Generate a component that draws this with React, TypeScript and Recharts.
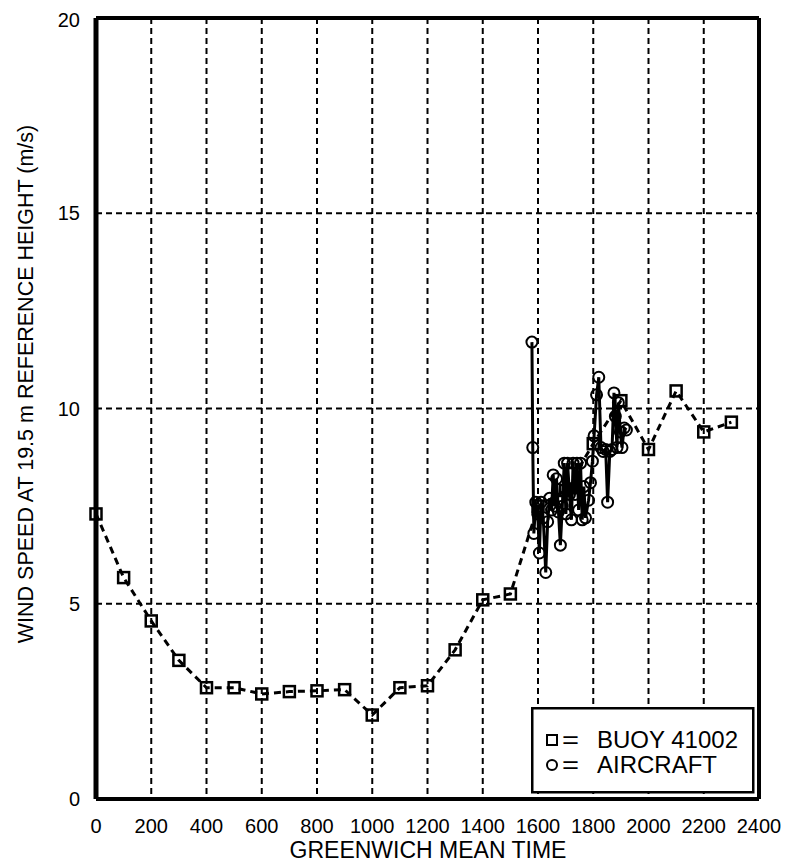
import { LineChart, Line, XAxis, YAxis, CartesianGrid, ReferenceLine } from 'recharts';

// buoy 41002, hourly
const BUOY_TIME = [0, 100, 200, 300, 400, 500, 600, 700, 800, 900, 1000, 1100, 1200, 1300, 1400, 1500, 1600, 1700, 1800, 1900, 2000, 2100, 2200, 2300];
const BUOY_SPEED = [7.3, 5.67, 4.56, 3.55, 2.85, 2.85, 2.69, 2.75, 2.77, 2.8, 2.15, 2.85, 2.9, 3.82, 5.1, 5.25, 7.5, 7.9, 9.1, 10.2, 8.95, 10.45, 9.4, 9.65];

// aircraft passes
const AIRCRAFT_TIME = [
  1578, 1581, 1585, 1592, 1599, 1605, 1611, 1619, 1628, 1635, 1642, 1649, 1655, 1661, 1667, 1674, 1681, 1688,
  1695, 1701, 1707, 1714, 1721, 1727, 1734, 1741, 1747, 1754, 1760, 1766, 1772, 1783, 1790, 1797, 1803, 1812,
  1820, 1828, 1836, 1845, 1852, 1860, 1868, 1875, 1880, 1886, 1891, 1898, 1904, 1912, 1920,
];
const AIRCRAFT_SPEED = [
  11.7, 9.0, 6.8, 7.6, 7.3, 6.3, 7.6, 7.2, 5.8, 7.1, 7.7, 7.4, 8.3, 7.5, 8.2, 7.35, 6.5, 7.5,
  8.6, 7.3, 8.6, 7.8, 7.15, 8.6, 7.8, 8.6, 7.4, 8.6, 7.15, 8.0, 7.2, 7.65, 8.1, 8.65, 9.3, 10.35,
  10.8, 9.0, 8.9, 8.95, 7.6, 8.9, 8.95, 10.4, 9.8, 9.0, 10.15, 9.4, 9.0, 9.5, 9.45,
];

const X_TICKS = [0, 200, 400, 600, 800, 1000, 1200, 1400, 1600, 1800, 2000, 2200, 2400];
const Y_TICKS = [0, 5, 10, 15, 20];

const X_TITLE = 'GREENWICH MEAN TIME';
const Y_TITLE = 'WIND SPEED AT 19.5 m REFERENCE HEIGHT (m/s)';

const buoy = BUOY_TIME.map((t, i) => ({ t, v: BUOY_SPEED[i] }));
const aircraft = AIRCRAFT_TIME.map((t, i) => ({ t, v: AIRCRAFT_SPEED[i] }));

const FONT = '"Liberation Sans", Arial, sans-serif';
const INK = '#000';

const W = 781;
const H = 856;

function Square(props: any) {
  const { cx, cy, index } = props;
  if (cx == null || cy == null) return <g key={`s-${index}`} />;
  return <rect key={`s-${index}`} x={cx - 5.5} y={cy - 5.5} width={11} height={11} fill="none" stroke={INK} strokeWidth={2.5} />;
}

function Ring(props: any) {
  const { cx, cy, index } = props;
  if (cx == null || cy == null) return <g key={`c-${index}`} />;
  return <circle key={`c-${index}`} cx={cx} cy={cy} r={5.5} fill="none" stroke={INK} strokeWidth={2} />;
}

function XTitle() {
  return (
    <text x={420} y={850} textAnchor="middle" fontSize={23} fontFamily={FONT} fill={INK}>
      {X_TITLE}
    </text>
  );
}

function YTitle() {
  return (
    <text x={25} y={376} transform="rotate(-90 25 376)" textAnchor="middle" fontSize={21.5} fontFamily={FONT} fill={INK}>
      {Y_TITLE}
    </text>
  );
}

function KeyBox() {
  return (
    <svg width={224} height={87} style={{ position: 'absolute', left: 523, top: 699 }}>
      <rect x={1.25} y={1.25} width={221} height={84} fill="#fff" stroke={INK} strokeWidth={2.5} />
      <rect x={16} y={28} width={10} height={10} fill="none" stroke={INK} strokeWidth={2} />
      <text x={31} y={41} fontSize={24} textLength={17} lengthAdjust="spacingAndGlyphs" fontFamily={FONT} fill={INK}>=</text>
      <text x={66} y={41} fontSize={24} fontFamily={FONT} fill={INK}>BUOY 41002</text>
      <circle cx={21} cy={58} r={5} fill="none" stroke={INK} strokeWidth={2} />
      <text x={31} y={66} fontSize={24} textLength={17} lengthAdjust="spacingAndGlyphs" fontFamily={FONT} fill={INK}>=</text>
      <text x={66} y={66} fontSize={24} fontFamily={FONT} fill={INK}>AIRCRAFT</text>
    </svg>
  );
}

export default function App() {
  const tick = { fontSize: 20, fill: INK, fontFamily: FONT };
  return (
    <div style={{ position: 'relative', width: W, height: H, background: '#fff' }}>
      <LineChart width={W} height={H} margin={{ top: 10, right: 30, left: 28, bottom: 8 }}>
        <CartesianGrid stroke={INK} strokeWidth={2} strokeDasharray="6 4" />
        <XAxis
          dataKey="t"
          type="number"
          domain={[0, 2400]}
          ticks={X_TICKS}
          height={57}
          tickSize={0}
          tickMargin={20}
          tickLine={false}
          axisLine={{ stroke: INK, strokeWidth: 4 }}
          tick={tick}
          label={XTitle}
        />
        <YAxis
          type="number"
          domain={[0, 20]}
          ticks={Y_TICKS}
          width={60}
          tickSize={0}
          tickMargin={16}
          tickLine={false}
          axisLine={{ stroke: INK, strokeWidth: 5 }}
          tick={tick}
          label={YTitle}
        />
        <ReferenceLine y={20} stroke={INK} strokeWidth={4} ifOverflow="visible" />
        <ReferenceLine x={2400} stroke={INK} strokeWidth={4} ifOverflow="visible" />
        <Line
          data={buoy}
          dataKey="v"
          stroke={INK}
          strokeWidth={3}
          strokeDasharray="7 5"
          dot={Square}
          activeDot={false}
          isAnimationActive={false}
        />
        <Line
          data={aircraft}
          dataKey="v"
          stroke={INK}
          strokeWidth={3}
          dot={Ring}
          activeDot={false}
          isAnimationActive={false}
        />
      </LineChart>
      <KeyBox />
    </div>
  );
}
